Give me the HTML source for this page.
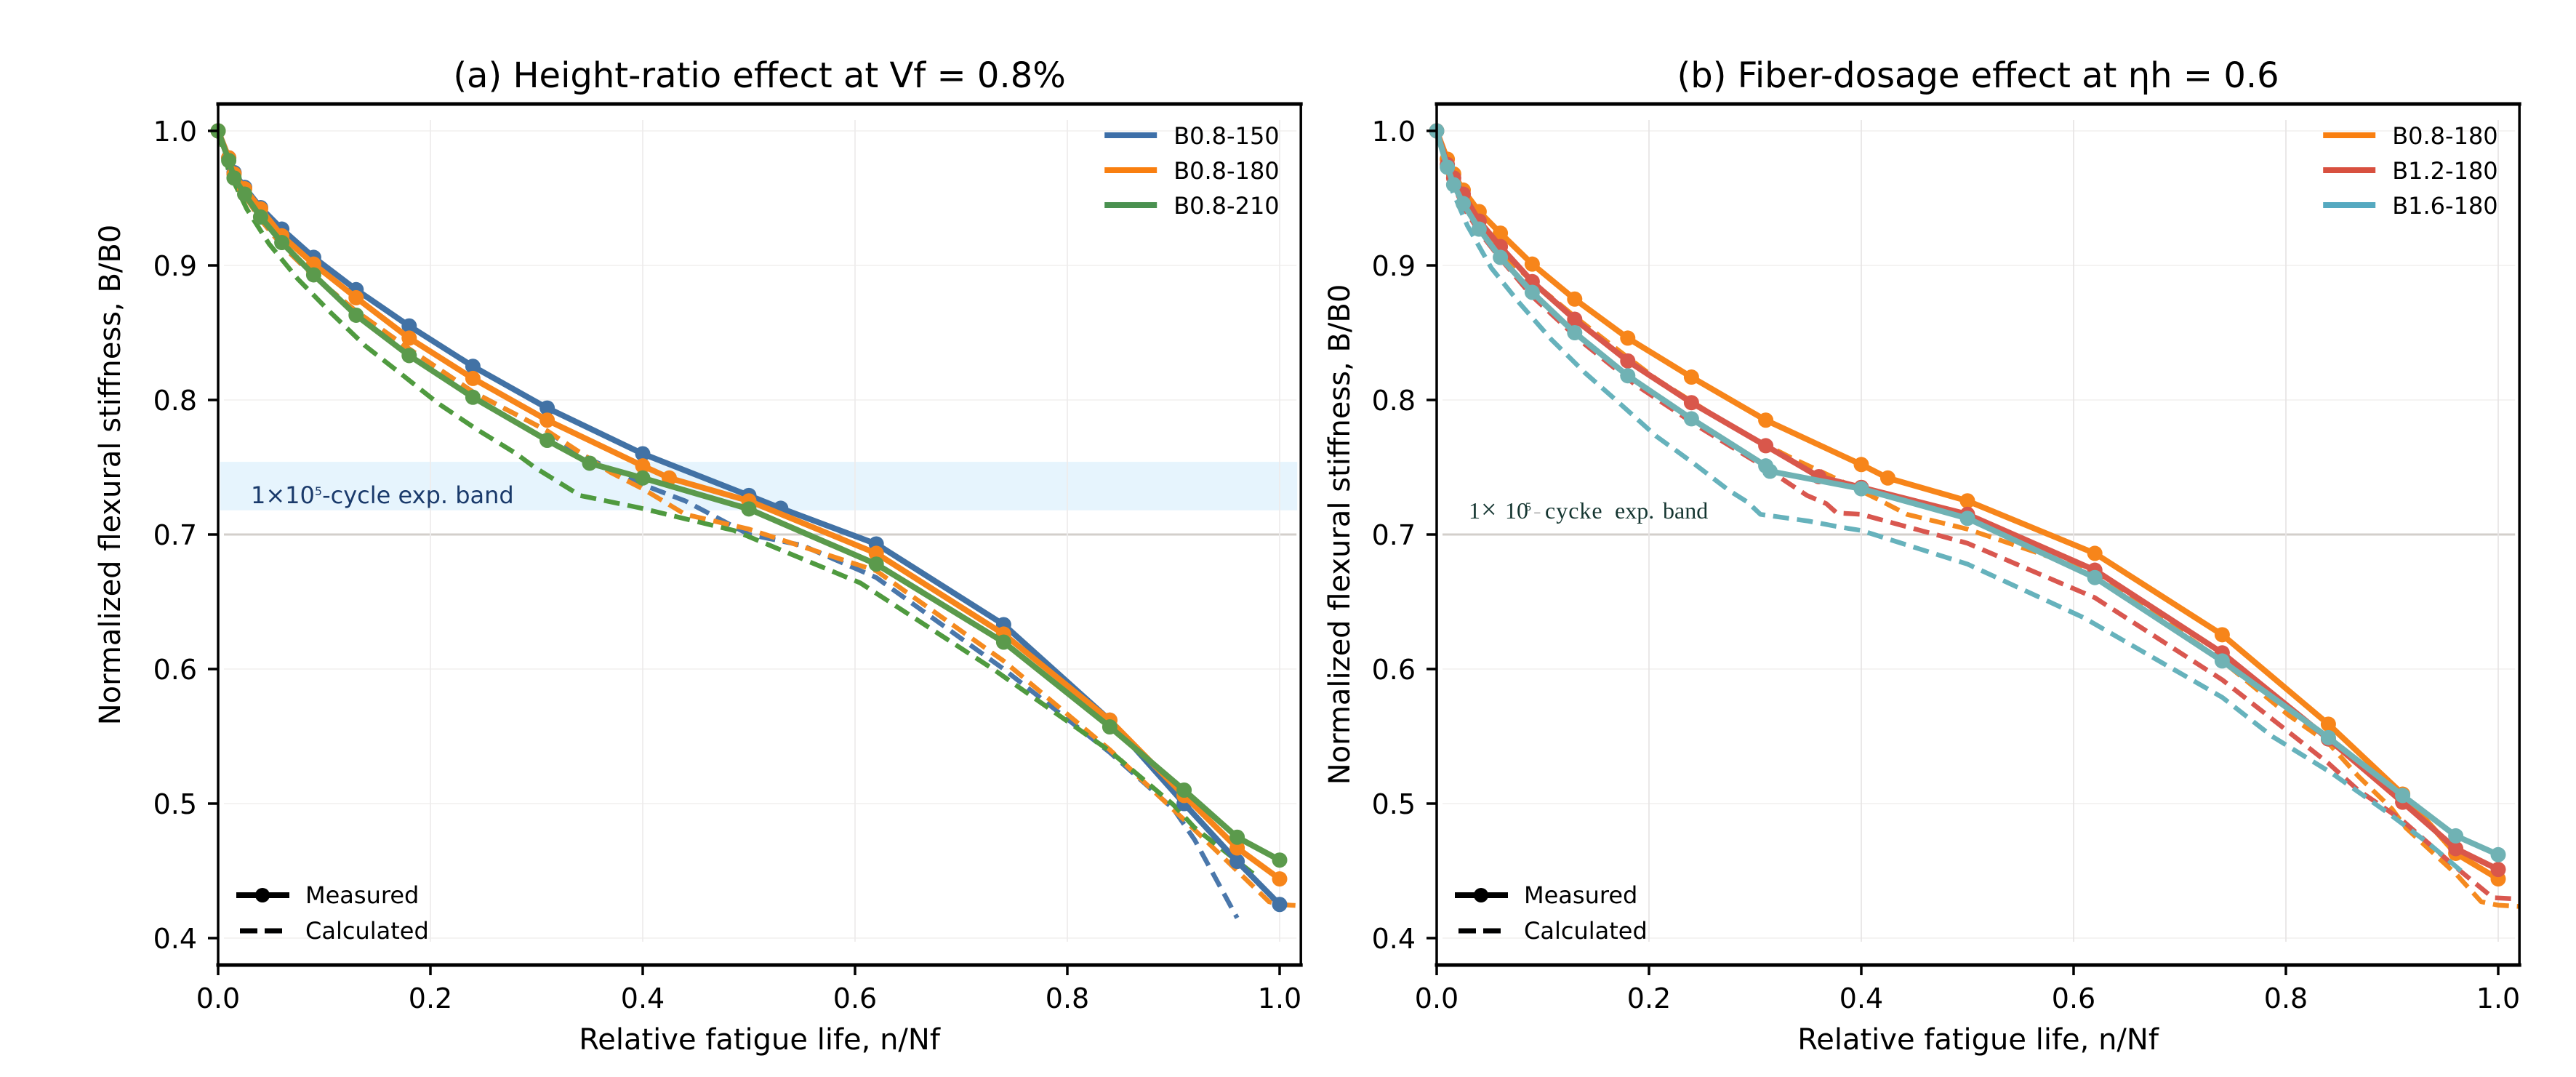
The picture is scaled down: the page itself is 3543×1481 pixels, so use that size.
<!DOCTYPE html>
<html lang="en">
<head>
<meta charset="utf-8">
<title>Normalized flexural stiffness vs relative fatigue life</title>
<style>
html,body{margin:0;padding:0;background:#fff;width:3543px;height:1481px;overflow:hidden}
svg{display:block}
text{font-family:"DejaVu Sans","Liberation Sans",sans-serif;fill:#000}
</style>
</head>
<body>
<svg id="fig" xmlns="http://www.w3.org/2000/svg" width="3543" height="1481" viewBox="0 0 3543 1481">
  <rect x="0" y="0" width="3543" height="1481" fill="#ffffff"/>
  <g id="panel-a"></g>
  <g id="panel-b"></g>
</svg>
<script>
// Axis tick values and labels
const xTickValues = [0, 0.2, 0.4, 0.6, 0.8, 1.0];
const xTickLabels = ["0.0", "0.2", "0.4", "0.6", "0.8", "1.0"];
const yTickValues = [1.0, 0.9, 0.8, 0.7, 0.6, 0.5, 0.4];
const yTickLabels = ["1.0", "0.9", "0.8", "0.7", "0.6", "0.5", "0.4"];
const xLimits = [0, 1.02];
const yLimits = [0.38, 1.02];
const bandRange = [0.718, 0.754];

// Panel (a) measured
const aBlueMeasX = [0, 0.01, 0.015, 0.025, 0.04, 0.06, 0.09, 0.13, 0.18, 0.24, 0.31, 0.40, 0.50, 0.53, 0.62, 0.74, 0.84, 0.91, 0.96, 1.0];
const aBlueMeasY = [1.0, 0.98, 0.969, 0.958, 0.943, 0.927, 0.906, 0.882, 0.855, 0.825, 0.794, 0.760, 0.729, 0.7195, 0.693, 0.633, 0.562, 0.500, 0.457, 0.425];
const aOrangeMeasX = [0, 0.01, 0.015, 0.025, 0.04, 0.06, 0.09, 0.13, 0.18, 0.24, 0.31, 0.40, 0.425, 0.50, 0.62, 0.74, 0.84, 0.91, 0.96, 1.0];
const aOrangeMeasY = [1.0, 0.98, 0.968, 0.957, 0.942, 0.922, 0.901, 0.876, 0.846, 0.816, 0.785, 0.751, 0.742, 0.725, 0.686, 0.626, 0.562, 0.506, 0.467, 0.444];
const aGreenMeasX = [0, 0.01, 0.015, 0.025, 0.04, 0.06, 0.09, 0.13, 0.18, 0.24, 0.31, 0.35, 0.40, 0.50, 0.62, 0.74, 0.84, 0.91, 0.96, 1.0];
const aGreenMeasY = [1.0, 0.978, 0.965, 0.953, 0.936, 0.917, 0.893, 0.863, 0.833, 0.802, 0.770, 0.753, 0.742, 0.719, 0.678, 0.620, 0.557, 0.510, 0.475, 0.458];

// Panel (a) calculated
const aBlueCalcX = [0, 0.02, 0.04, 0.06, 0.09, 0.13, 0.18, 0.24, 0.31, 0.34, 0.40, 0.44, 0.50, 0.55, 0.62, 0.74, 0.84, 0.90, 0.92, 0.96];
const aBlueCalcY = [1.0, 0.958, 0.934, 0.915, 0.892, 0.866, 0.838, 0.806, 0.777, 0.760, 0.737, 0.725, 0.700, 0.692, 0.668, 0.600, 0.538, 0.496, 0.473, 0.415];
const aOrangeCalcX = [0, 0.02, 0.04, 0.06, 0.09, 0.13, 0.18, 0.24, 0.31, 0.37, 0.40, 0.44, 0.50, 0.62, 0.74, 0.84, 0.91, 0.96, 0.99, 1.0, 1.02];
const aOrangeCalcY = [1.0, 0.958, 0.934, 0.915, 0.892, 0.866, 0.838, 0.806, 0.777, 0.746, 0.734, 0.715, 0.704, 0.673, 0.606, 0.540, 0.488, 0.450, 0.427, 0.425, 0.424];
const aGreenCalcX = [0, 0.01, 0.027, 0.048, 0.075, 0.106, 0.139, 0.173, 0.208, 0.244, 0.281, 0.298, 0.341, 0.396, 0.486, 0.605, 0.73, 0.84, 0.90, 0.92, 0.975];
const aGreenCalcY = [1.0, 0.97, 0.942, 0.916, 0.89, 0.865, 0.84, 0.819, 0.797, 0.778, 0.76, 0.75, 0.729, 0.72, 0.703, 0.664, 0.60, 0.539, 0.499, 0.482, 0.448];

// Panel (b) measured
const bOrangeMeasX = [0, 0.01, 0.016, 0.025, 0.04, 0.06, 0.09, 0.13, 0.18, 0.24, 0.31, 0.40, 0.425, 0.50, 0.62, 0.74, 0.84, 0.91, 0.96, 1.0];
const bOrangeMeasY = [1.0, 0.979, 0.968, 0.956, 0.94, 0.924, 0.901, 0.875, 0.846, 0.817, 0.785, 0.752, 0.742, 0.725, 0.686, 0.6255, 0.559, 0.507, 0.463, 0.444];
const bRedMeasX = [0, 0.01, 0.016, 0.025, 0.04, 0.06, 0.09, 0.13, 0.18, 0.24, 0.31, 0.36, 0.40, 0.50, 0.62, 0.74, 0.84, 0.91, 0.96, 1.0];
const bRedMeasY = [1.0, 0.975, 0.965, 0.953, 0.933, 0.914, 0.888, 0.86, 0.829, 0.798, 0.766, 0.743, 0.735, 0.715, 0.6735, 0.612, 0.548, 0.501, 0.4665, 0.451];
const bTealMeasX = [0, 0.01, 0.016, 0.025, 0.04, 0.06, 0.09, 0.13, 0.18, 0.24, 0.31, 0.314, 0.40, 0.50, 0.62, 0.74, 0.84, 0.91, 0.96, 1.0];
const bTealMeasY = [1.0, 0.973, 0.96, 0.946, 0.927, 0.906, 0.88, 0.85, 0.818, 0.786, 0.751, 0.747, 0.734, 0.712, 0.668, 0.606, 0.549, 0.506, 0.476, 0.462];

// Panel (b) calculated
const bOrangeCalcX = [0, 0.02, 0.04, 0.06, 0.09, 0.13, 0.166, 0.208, 0.26, 0.297, 0.334, 0.375, 0.412, 0.443, 0.50, 0.62, 0.74, 0.802, 0.84, 0.868, 0.90, 0.913, 0.961, 0.984, 1.0, 1.02];
const bOrangeCalcY = [1.0, 0.955, 0.93, 0.91, 0.888, 0.862, 0.84, 0.815, 0.789, 0.772, 0.757, 0.742, 0.7276, 0.715, 0.704, 0.672, 0.606, 0.566, 0.545, 0.5205, 0.496, 0.482, 0.447, 0.427, 0.4245, 0.4235];
const bRedCalcX = [0, 0.02, 0.04, 0.06, 0.09, 0.134, 0.186, 0.247, 0.305, 0.349, 0.367, 0.377, 0.40, 0.50, 0.62, 0.74, 0.84, 0.868, 0.909, 0.958, 0.995, 1.02];
const bRedCalcY = [1.0, 0.95, 0.925, 0.905, 0.877, 0.845, 0.812, 0.78, 0.752, 0.729, 0.723, 0.716, 0.715, 0.6935, 0.653, 0.592, 0.53, 0.51, 0.488, 0.454, 0.43, 0.429];
const bTealCalcX = [0, 0.015, 0.029, 0.0516, 0.078, 0.108, 0.14, 0.173, 0.207, 0.241, 0.275, 0.293, 0.305, 0.35, 0.38, 0.40, 0.50, 0.61, 0.74, 0.787, 0.843, 0.898, 0.935, 0.965];
const bTealCalcY = [1.0, 0.955, 0.9295, 0.898, 0.872, 0.845, 0.82, 0.797, 0.773, 0.7535, 0.733, 0.724, 0.715, 0.71, 0.7055, 0.703, 0.678, 0.638, 0.579, 0.55, 0.5227, 0.492, 0.47, 0.45];

const SVGNS = "http://www.w3.org/2000/svg";
const SERIF_FONT = '"Liberation Serif", serif';

function make(tag, parent, attrs) {
  const el = document.createElementNS(SVGNS, tag);
  for (const k in attrs) el.setAttribute(k, attrs[k]);
  parent.appendChild(el);
  return el;
}

function drawPanel(cfg) {
  const g = cfg.group;
  const left = cfg.left;
  const pxPerX = 1460;
  const x = v => left + pxPerX * v;
  const y = v => 180 + (1 - v) * 1850;
  const right = x(xLimits[1]);
  const top = y(yLimits[1]);
  const bottom = y(yLimits[0]);
  const cx = (left + right) / 2;

  // band
  if (cfg.showBand) {
    const band = make('rect', g, {x: left + 3, y: y(bandRange[1]), width: right - left - 8, height: y(bandRange[0]) - y(bandRange[1]), fill: '#e6f4fd'});
    
    
  }

  // grid
  yTickValues.forEach((v, i) => {
    const isStrong = v === 0.7;
    const line = make('line', g, {x1: left + 8, x2: right - 6, y1: y(v), y2: y(v), stroke: isStrong ? '#d3cfcb' : '#f4f3f2', 'stroke-width': isStrong ? 3 : 2});
    
    
  });
  xTickValues.forEach((v, i) => {
    if (v === 0) return;
    const line = make('line', g, {x1: x(v), x2: x(v), y1: 165, y2: 1295, stroke: cfg.vGridColor, 'stroke-width': 1.8});
    
    
  });

  // calculated
  cfg.calc.forEach(s => {
    const pl = make('polyline', g, {
      points: s.xs.map((v, i) => x(v).toFixed(1) + ',' + y(s.ys[i]).toFixed(1)).join(' '),
      fill: 'none', stroke: s.color, 'stroke-width': 6.5, 'stroke-dasharray': '22 11', 'stroke-linejoin': 'round'
    });
    
    
  });

  // measured
  cfg.meas.forEach(s => {
    const pl = make('polyline', g, {
      points: s.xs.map((v, i) => x(v).toFixed(1) + ',' + y(s.ys[i]).toFixed(1)).join(' '),
      fill: 'none', stroke: s.color, 'stroke-width': 8, 'stroke-linejoin': 'round'
    });
    
    
    s.xs.forEach((v, i) => {
      const c = make('circle', g, {cx: x(v), cy: y(s.ys[i]), r: 10.5, fill: s.color});
      
      
    });
  });

  // spines
  const spines = [
    ['left', left, top, left, bottom, 3.5],
    ['right', right, top, right, bottom, 3.5],
    ['top', left, top, right, top, 5],
    ['bottom', left, bottom, right, bottom, 5]
  ];
  spines.forEach(sp => {
    const line = make('line', g, {x1: sp[1], y1: sp[2], x2: sp[3], y2: sp[4], stroke: '#000', 'stroke-width': sp[5], 'stroke-linecap': 'square'});
    
    
  });

  // ticks
  xTickValues.forEach((v, i) => {
    const tick = make('line', g, {x1: x(v), x2: x(v), y1: bottom, y2: bottom + 14, stroke: '#000', 'stroke-width': 3.5});
    
    
    const t = make('text', g, {x: x(v), y: 1386, 'text-anchor': 'middle', 'font-size': 38});
    t.textContent = xTickLabels[i];
    
    
  });
  yTickValues.forEach((v, i) => {
    const tick = make('line', g, {x1: left - 14, x2: left, y1: y(v), y2: y(v), stroke: '#000', 'stroke-width': 3.5});
    
    
    const t = make('text', g, {x: left - 29, y: y(v) + 14, 'text-anchor': 'end', 'font-size': 38});
    t.textContent = yTickLabels[i];
    
    
  });

  // titles
  const title = make('text', g, {x: cx, y: 120, 'text-anchor': 'middle', 'font-size': 48});
  title.textContent = cfg.title;
  
  

  const xl = make('text', g, {x: cx, y: 1443, 'text-anchor': 'middle', 'font-size': 40});
  xl.textContent = 'Relative fatigue life, n/Nf';
  
  

  const yl = make('text', g, {transform: 'translate(' + cfg.yLabelX + ' ' + cfg.yLabelY + ') rotate(-90)', 'text-anchor': 'middle', 'font-size': 40});
  yl.textContent = 'Normalized flexural stiffness, B/B0';
  
  

  // series legend
  cfg.meas.forEach((s, i) => {
    const ly = 186 + i * 48;
    const line = make('line', g, {x1: right - 270, x2: right - 198, y1: ly, y2: ly, stroke: s.legendColor || s.color, 'stroke-width': 8});
    
    
    const t = make('text', g, {x: right - 175, y: ly + 12, 'font-size': 32});
    t.textContent = s.label;
    
    
  });

  // style legend
  const solid = make('line', g, {x1: left + 25, x2: left + 98, y1: 1231, y2: 1231, stroke: '#000', 'stroke-width': 8});
  
  
  const dot = make('circle', g, {cx: left + 61, cy: 1231, r: 10, fill: '#000'});
  
  
  const mt = make('text', g, {x: left + 120, y: 1242, 'font-size': 32});
  mt.textContent = 'Measured';
  
  
  const dash = make('line', g, {x1: left + 30, x2: left + 88, y1: 1280, y2: 1280, stroke: '#000', 'stroke-width': 7, 'stroke-dasharray': '24 10'});
  
  
  const ct = make('text', g, {x: left + 120, y: 1291, 'font-size': 32});
  ct.textContent = 'Calculated';
  
  

  // band annotation
  const ann = make('text', g, cfg.annAttrs);
  ann.style.fill = cfg.annColor;
  if (cfg.annFont) ann.style.fontFamily = cfg.annFont;
  cfg.annParts.forEach(p => {
    const ts = make('tspan', ann, p.attrs);
    ts.textContent = p.text;
    if (p.color) ts.style.fill = p.color;
  });
  
  
}

drawPanel({
  group: document.getElementById('panel-a'),
  left: 300,
  title: '(a) Height-ratio effect at Vf = 0.8%',
  yLabelX: 165,
  yLabelY: 653,
  showBand: true,
  vGridColor: '#eeecec',
  calc: [
    {name: 'b0-8-150', color: '#4a77ab', xs: aBlueCalcX, ys: aBlueCalcY},
    {name: 'b0-8-180', color: '#f58a1f', xs: aOrangeCalcX, ys: aOrangeCalcY},
    {name: 'b0-8-210', color: '#4f9a3f', xs: aGreenCalcX, ys: aGreenCalcY}
  ],
  meas: [
    {name: 'b0-8-150', label: 'B0.8-150', color: '#4272a5', legendColor: '#3d6fa8', xs: aBlueMeasX, ys: aBlueMeasY},
    {name: 'b0-8-180', label: 'B0.8-180', color: '#f7851a', legendColor: '#f97f10', xs: aOrangeMeasX, ys: aOrangeMeasY},
    {name: 'b0-8-210', label: 'B0.8-210', color: '#5b9a4c', legendColor: '#4a9150', xs: aGreenMeasX, ys: aGreenMeasY}
  ],
  annAttrs: {x: 345, y: 692, 'font-size': 32},
  annColor: '#1a3a6b',
  annParts: [
    {text: '1×10', attrs: {}},
    {text: '5', attrs: {dy: -11, 'font-size': 16}},
    {text: '-cycle exp. band', attrs: {dy: 11}}
  ]
});

drawPanel({
  group: document.getElementById('panel-b'),
  left: 1976,
  title: '(b) Fiber-dosage effect at ηh = 0.6',
  yLabelX: 1856,
  yLabelY: 735,
  showBand: false,
  vGridColor: '#e8e5e5',
  calc: [
    {name: 'b0-8-180', color: '#f58a1f', xs: bOrangeCalcX, ys: bOrangeCalcY},
    {name: 'b1-2-180', color: '#d9574f', xs: bRedCalcX, ys: bRedCalcY},
    {name: 'b1-6-180', color: '#66b2bc', xs: bTealCalcX, ys: bTealCalcY}
  ],
  meas: [
    {name: 'b0-8-180', label: 'B0.8-180', color: '#f7851a', legendColor: '#f97f10', xs: bOrangeMeasX, ys: bOrangeMeasY},
    {name: 'b1-2-180', label: 'B1.2-180', color: '#d9574b', legendColor: '#d8503f', xs: bRedMeasX, ys: bRedMeasY},
    {name: 'b1-6-180', label: 'B1.6-180', color: '#70b2b4', legendColor: '#55a9c0', xs: bTealMeasX, ys: bTealMeasY}
  ],
  annAttrs: {x: 2020, y: 713, 'font-size': 32},
  annColor: '#143530',
  annFont: SERIF_FONT,
  annParts: [
    {text: '1', attrs: {x: 2020}},
    {text: '×', attrs: {x: 2037, 'font-size': 38}},
    {text: '10', attrs: {x: 2070}},
    {text: '5', attrs: {x: 2098, dy: -11, 'font-size': 16}},
    {text: '-', attrs: {x: 2109, dy: 11}, color: '#c8c8c8'},
    {text: 'cycke', attrs: {x: 2125, 'letter-spacing': 1}},
    {text: 'exp.', attrs: {x: 2221}},
    {text: 'band', attrs: {x: 2287}}
  ]
});
</script>
</body>
</html>
